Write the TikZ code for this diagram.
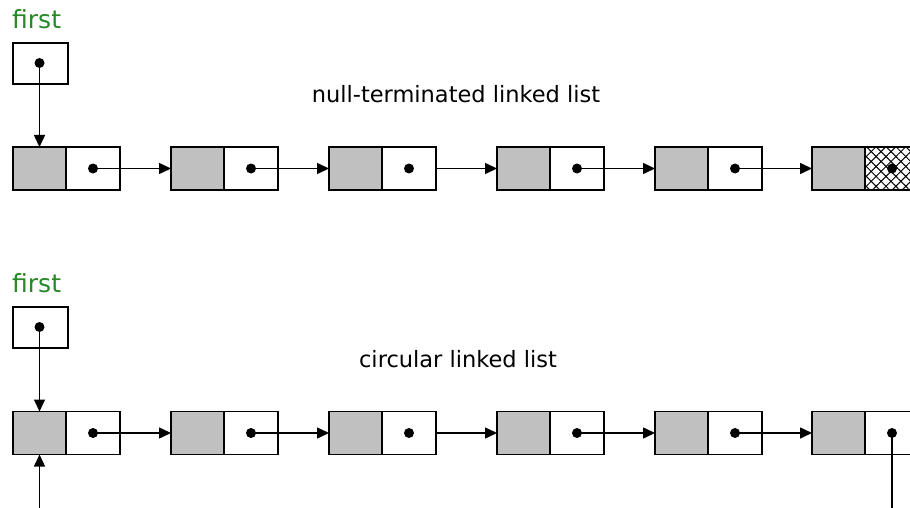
\documentclass[tikz,border=0pt]{standalone}
\usepackage{fontspec}
\setmainfont{DejaVu Sans}
\usetikzlibrary{arrows.meta,patterns.meta}
\definecolor{cellgray}{RGB}{192,192,192}
\definecolor{labelgreen}{RGB}{40,136,40}

\begin{document}
\begin{tikzpicture}[x=1pt,y=-1pt,
  cell/.style={draw=black,line width=1.9pt,minimum height=43pt,inner sep=0pt,outer sep=0pt},
  datacell/.style={cell,fill=cellgray,minimum width=53pt},
  linkcell/.style={cell,fill=white,minimum width=54pt},
  headbox/.style={cell,fill=white,minimum width=55pt,minimum height=41pt},
  ptrdot/.style={circle,fill=black,inner sep=0pt,minimum size=10pt},
  link/.style={line width=1.5pt,-{Triangle[length=12pt,width=11pt]}},
  plainlink/.style={line width=1.5pt},
  title/.style={font=\fontsize{22.5}{24}\selectfont,inner sep=0pt},
  headlabel/.style={font=\fontsize{25}{27}\selectfont,inner sep=0pt,text=labelgreen},
  nullcell/.style={cell,minimum width=54pt,
    preaction={pattern={Lines[angle=45,distance=7pt,line width=1pt]}},
    pattern={Lines[angle=-45,distance=7pt,line width=1pt]}},
]
\useasboundingbox (0,0) rectangle (910,508);
\clip (0,0) rectangle (910,508);

% ---------- null-terminated list ----------
\node[headlabel,anchor=base west] (tfirst) at (12,29) {first};
\node[title,anchor=base] (ttitle) at (456,103) {null-terminated linked list};

\foreach \k/\L in {1/13,2/171,3/329,4/497,5/655}{
  \node[datacell] (ta\k) at (\L+26.5,168.5) {};
  \node[linkcell] (tb\k) at (\L+80,168.5) {};
  \node[ptrdot] (tp\k) at (tb\k.center) {};
}
\node[datacell] (ta6) at (812+26.5,168.5) {};
\node[nullcell] (tb6) at (812+80,168.5) {};
\node[ptrdot] (tp6) at (tb6.center) {};

\node[headbox] (th) at (40.5,63.5) {};
\node[ptrdot] (thp) at (39.5,63) {};
\draw[link] (thp.center) -- (ta1.north);

\foreach \k/\n in {1/2,2/3,4/5,5/6}{
  \draw[link] (tp\k.center) -- (ta\n.west);
}
\draw[link] (tb3.east) -- (ta4.west);

% ---------- circular list ----------
\node[headlabel,anchor=base west] (bfirst) at (12,292) {first};
\node[title,anchor=base] (btitle) at (458,367) {circular linked list};

\foreach \k/\L in {1/13,2/171,3/329,4/497,5/655,6/812}{
  \node[datacell] (ba\k) at (\L+26.5,433) {};
  \node[linkcell] (bb\k) at (\L+80,433) {};
  \node[ptrdot] (bp\k) at (bb\k.center) {};
}

\node[headbox] (bh) at (40.5,327.5) {};
\node[ptrdot] (bhp) at (39.5,327) {};
\draw[link] (bhp.center) -- (ba1.north);

\foreach \k/\n in {1/2,2/3,4/5,5/6}{
  \draw[link] (bp\k.center) -- (ba\n.west);
}
\draw[link] (bb3.east) -- (ba4.west);

% wrap-around link leaving the last node and re-entering the first
\coordinate (bin) at (39.5,508);
\coordinate (bout) at (892,508);
\draw[plainlink] (bp6.center) -- (bout);
\draw[link] (bin) -- (ba1.south);
\end{tikzpicture}
\end{document}
